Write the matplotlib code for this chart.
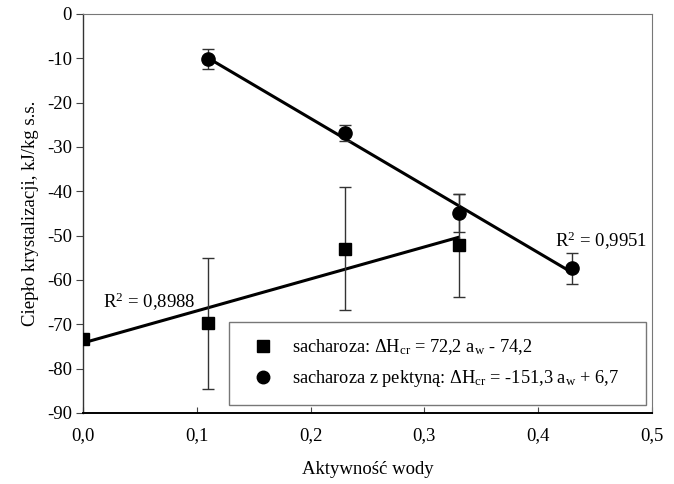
import numpy as np
import matplotlib
matplotlib.use("Agg")
import matplotlib.pyplot as plt
from matplotlib.lines import Line2D

plt.rcParams['font.family'] = ['Liberation Serif', 'DejaVu Serif']
plt.rcParams['mathtext.fontset'] = 'custom'
plt.rcParams['mathtext.rm'] = 'Liberation Serif'
plt.rcParams['mathtext.it'] = 'Liberation Serif:italic'

# sacharoza
aw_s = [0.0, 0.11, 0.23, 0.33]
dh_s = [-73.3, -69.8, -52.9, -52.2]
err_s = [0.0, 14.8, 13.8, 11.6]

# sacharoza z pektyna
aw_p = [0.11, 0.23, 0.33, 0.43]
dh_p = [-10.2, -26.9, -44.9, -57.4]
err_p = [2.2, 1.8, 4.3, 3.4]

# regression coefficients (slope, intercept) and fit ranges
fit_s = [72.2, -74.2]
fit_p = [-151.3, 6.7]
range_s = [0.0, 0.33]
range_p = [0.11, 0.43]
r2_s = "0,8988"
r2_p = "0,9951"

xticks = [0.0, 0.1, 0.2, 0.3, 0.4, 0.5]
yticks = [0, -10, -20, -30, -40, -50, -60, -70, -80, -90]

fig = plt.figure(figsize=(6.74, 4.84), dpi=100)
ax = fig.add_axes([0.1231, 0.1467, 0.8443, 0.8244])

# fitted lines
xs = np.array(range_s)
ax.plot(xs, fit_s[0] * xs + fit_s[1], color='black', lw=2.2, zorder=2)
xp = np.array(range_p)
ax.plot(xp, fit_p[0] * xp + fit_p[1], color='black', lw=2.2, zorder=2)

# measured points with error bars
ax.errorbar(aw_s, dh_s, yerr=err_s, fmt='s', color='black', ms=8.5,
            ecolor='#333333', elinewidth=1, capsize=4, capthick=1, zorder=3)
ax.errorbar(aw_p, dh_p, yerr=err_p, fmt='o', color='black', ms=9.5,
            ecolor='#333333', elinewidth=1, capsize=4, capthick=1, zorder=3)

ax.text(0.0175, -65, "R$^{2}$ = " + r2_s, fontsize=13.5, va='center', ha='left')
ax.text(0.4148, -51.2, "R$^{2}$ = " + r2_p, fontsize=13.5, va='center', ha='left')

ax.set_xlim(0, 0.5)
ax.set_ylim(-90, 0)
ax.set_xticks(xticks)
ax.set_xticklabels([f"{t:.1f}".replace('.', ',') for t in xticks])
ax.set_yticks(yticks)
ax.set_yticklabels([str(t) for t in yticks])
ax.tick_params(axis='y', direction='out', length=5, width=0.8, labelsize=13.5, pad=3, color='#444444')
ax.tick_params(axis='x', direction='in', length=4, width=0.8, labelsize=13.5, pad=10, color='#444444')

for side in ['top', 'right']:
    ax.spines[side].set_color('#777777')
    ax.spines[side].set_linewidth(0.8)
ax.spines['left'].set_color('#333333')
ax.spines['left'].set_linewidth(1.0)
ax.spines['bottom'].set_color('black')
ax.spines['bottom'].set_linewidth(1.4)

ax.set_xlabel("Aktywność wody", fontsize=13.5, labelpad=12)
ax.set_ylabel("Ciepło krystalizacji, kJ/kg s.s.", fontsize=13.5, labelpad=6)

handles = [
    Line2D([], [], marker='s', color='black', ls='none', ms=8),
    Line2D([], [], marker='o', color='black', ls='none', ms=9),
]
labels = [
    "sacharoza: ΔH$_{\\mathrm{cr}}$ = 72,2 a$_{\\mathrm{w}}$ - 74,2",
    "sacharoza z pektyną: ΔH$_{\\mathrm{cr}}$ = -151,3 a$_{\\mathrm{w}}$ + 6,7",
]
leg = ax.legend(handles, labels, loc='lower left',
                bbox_to_anchor=(0.2566, 0.02, 0.7324, 0.2056), mode='expand',
                fontsize=13.2, frameon=True, fancybox=False, borderpad=0.85,
                labelspacing=0.6, handletextpad=0.6, borderaxespad=0)
leg.get_frame().set_edgecolor('#555555')
leg.get_frame().set_linewidth(1.0)

fig.savefig("out.png", dpi=100)
